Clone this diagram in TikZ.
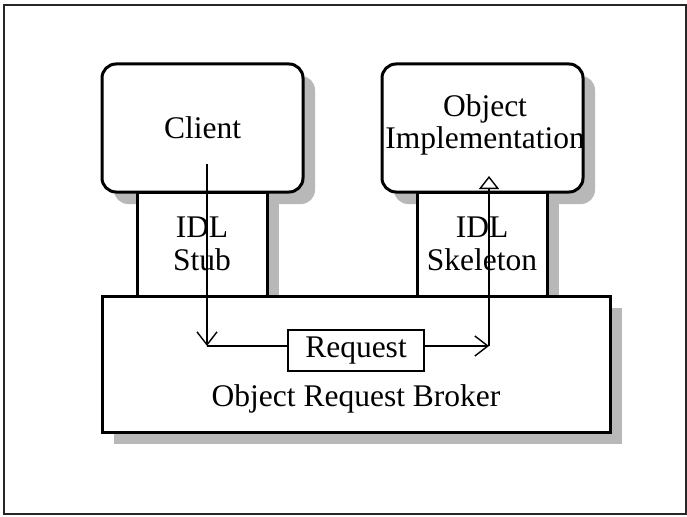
\documentclass[tikz,border=0pt]{standalone}
\usepackage{fontspec}
\setmainfont{Liberation Serif}
\usetikzlibrary{arrows.meta}
\begin{document}
\begin{tikzpicture}[x=1pt,y=-1pt,
  shadowc/.style={fill=black!28, draw=none},
  box/.style={draw=black, line width=3pt, fill=white, inner sep=0pt, outer sep=0pt},
  rbox/.style={box, rounded corners=14pt},
  lbl/.style={font=\fontsize{31.5}{32.5}\selectfont, align=center, inner sep=0pt},
  flow/.style={line width=1.4pt},
  barb/.style={-{Straight Barb[length=13pt,width=20pt,line width=1.4pt]}}]
\useasboundingbox (0,0) rectangle (687,516);
\draw[line width=1.3pt, black!85] (4,5) rectangle (686,514);
% shadows
\fill[shadowc, rounded corners=14pt] (114,76) rectangle (315,204);
\fill[shadowc, rounded corners=14pt] (394,76) rectangle (595,204);
\fill[shadowc] (149,204) rectangle (279,308);
\fill[shadowc] (429,204) rectangle (559,308);
\fill[shadowc] (114,308) rectangle (622,444);
% boxes
\node[box, minimum width=130pt, minimum height=104pt] (stub) at (202,244) {};
\node[box, minimum width=130pt, minimum height=104pt] (skel) at (482,244) {};
\node[rbox, minimum width=201pt, minimum height=128pt] (client) at (202.5,128) {};
\node[rbox, minimum width=201pt, minimum height=128pt] (impl) at (482.5,128) {};
\node[box, minimum width=508pt, minimum height=136pt] (orb) at (356,364) {};
\node[box, line width=1.5pt, minimum width=136pt, minimum height=41pt] (req) at (356,350.5) {};
% texts
\node[lbl] (tclient) at (client.center) {Client};
\node[lbl] (timpl) at (485,125) {Object\\Implementation};
\node[lbl] (tstub) at (202,244) {IDL\\Stub};
\node[lbl] (tskel) at (482,244) {IDL\\Skeleton};
\node[lbl] (torb) at (356,399) {Object Request Broker};
\node[lbl] (treq) at (req.center) {Request};
% connectors
\coordinate (a0) at (207,164);
\coordinate (a1) at (207,346);
\coordinate (b1) at (489,346);
\coordinate (b2) at (489,176);
\draw[flow, barb] (a0) -- (a1);
\draw[flow] (a1) -- (a1 -| req.west);
\draw[flow, barb] (req.east |- b1) -- (b1);
\draw[flow, -{Triangle[open,length=13pt,width=20pt,fill=white,line width=1.4pt]}] (b1) -- (b2);
\end{tikzpicture}
\end{document}
